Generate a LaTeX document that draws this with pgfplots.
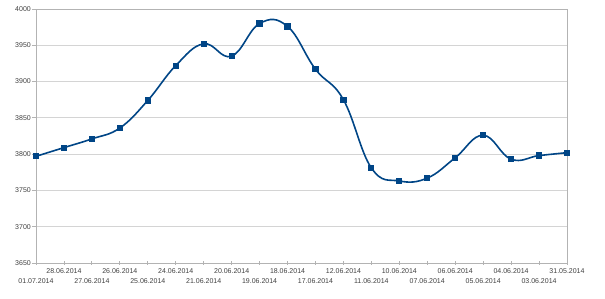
\documentclass[border=0pt]{standalone}
\usepackage{pgfplots}
\pgfplotsset{compat=1.18}
\usepackage{fontspec}
\setmainfont{Liberation Sans}
\definecolor{series}{HTML}{004586}
\definecolor{gridc}{HTML}{D4D4D4}
\definecolor{axc}{HTML}{B3B3B3}
\begin{document}
\begin{tikzpicture}
\begin{axis}[
  scale only axis,
  width=531pt, height=254pt,
  xmin=0, xmax=19,
  ymin=3650, ymax=4000,
  ytick={3650,3700,...,4000},
  ymajorgrids,
  grid style={gridc, line width=0.8pt},
  axis line style={axc, line width=0.8pt},
  every tick/.style={axc, line width=0.8pt},
  tick pos=left,
  ytick align=outside,
  xtick align=center,
  major tick length=4pt,
  xtick={1,3,...,19},
  xticklabels={28.06.2014,26.06.2014,24.06.2014,20.06.2014,18.06.2014,12.06.2014,10.06.2014,06.06.2014,04.06.2014,31.05.2014},
  extra x ticks={0,2,...,18},
  extra x tick labels={01.07.2014,27.06.2014,25.06.2014,21.06.2014,19.06.2014,17.06.2014,11.06.2014,07.06.2014,05.06.2014,03.06.2014},
  extra x tick style={grid=none, tick label style={yshift=-9.5pt}},
  tick label style={font=\fontsize{7}{8}\selectfont, text=black!75},
  xticklabel style={inner sep=1pt, yshift=-2.5pt},
  yticklabel style={inner sep=1pt},
  /pgf/number format/assume math mode=true,
  /pgf/number format/1000 sep={},
  clip=false,
]
\addplot[series, line width=1.6pt, smooth, tension=0.7,
  mark=square*, mark size=2.6pt, mark options={fill=series, line width=0pt}]
coordinates {
(0,3797) (1,3809) (2,3821) (3,3836) (4,3874) (5,3922) (6,3952) (7,3935)
(8,3980) (9,3976) (10,3917) (11,3875) (12,3781) (13,3763) (14,3767)
(15,3795) (16,3826) (17,3793) (18,3798) (19,3802)
};
\end{axis}
\pgfresetboundingbox
\path (-36pt,-36pt) rectangle (569pt,263pt);
\end{tikzpicture}
\end{document}
